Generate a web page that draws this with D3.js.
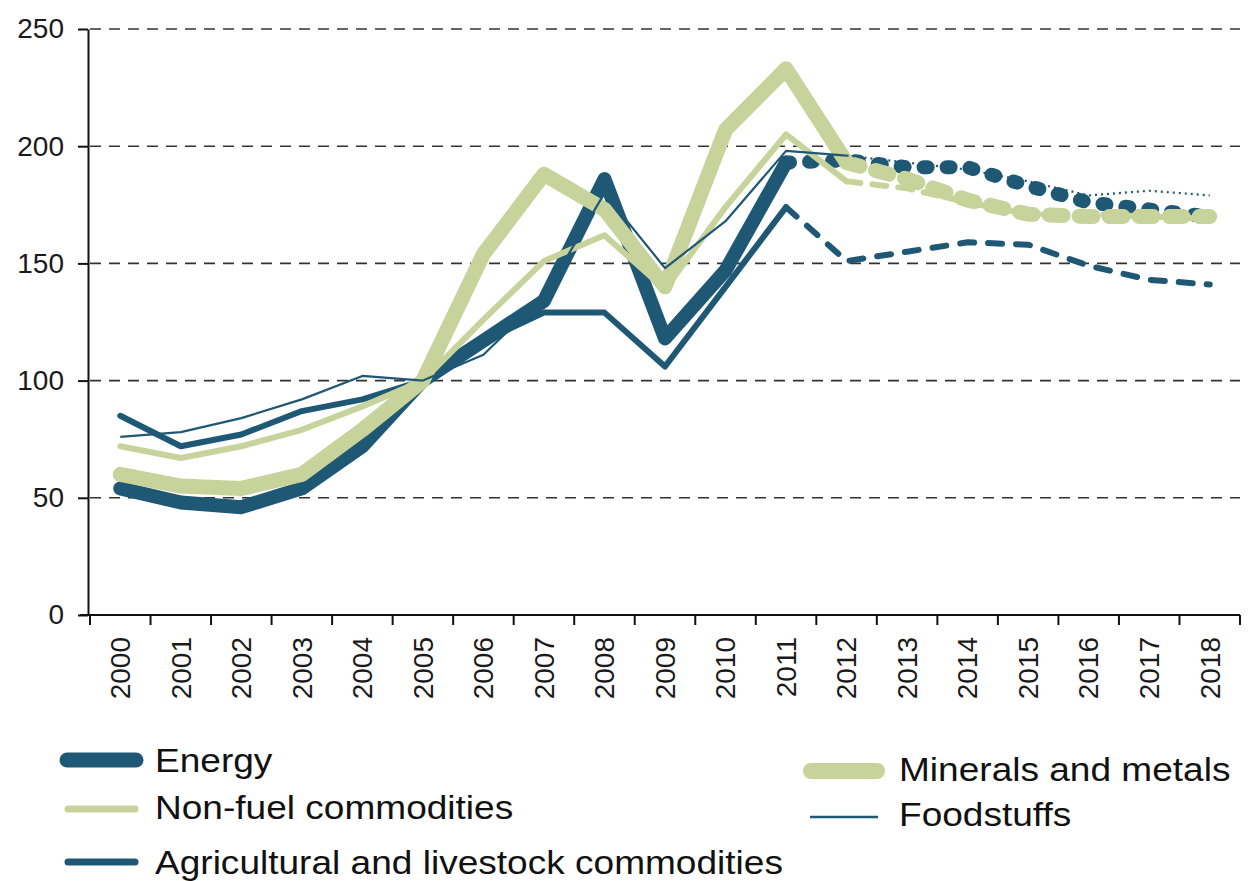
<!DOCTYPE html>
<html>
<head>
<meta charset="utf-8">
<script src="https://cdn.jsdelivr.net/npm/d3@7"></script>
<style>
  body { margin: 0; background: #ffffff; }
  svg { display: block; font-family: "Liberation Sans", Arial, sans-serif; }
  .axis text { font-size: 28px; fill: #1a1a1a; }
  .axis path, .axis line { stroke: #111; stroke-width: 2px; }
  .grid line { stroke: #333; stroke-width: 1.6px; stroke-dasharray: 11 8; }
  .legend text { font-size: 34px; fill: #111; }
</style>
</head>
<body>
<div id="chart"></div>
<script>
// categories (years on the x axis)
var years = ["2000", "2001", "2002", "2003", "2004", "2005", "2006", "2007", "2008", "2009",
             "2010", "2011", "2012", "2013", "2014", "2015", "2016", "2017", "2018"];

// y axis tick labels
var yTicks = [0, 50, 100, 150, 200, 250];

// series values (index, 2005 = 100)
var energy     = [54, 48, 46, 54, 72, 100, 117, 134, 186, 118, 147, 193, 194, 191, 191, 183, 176, 173, 170];
var nonFuel    = [72, 67, 72, 79, 89, 100, 126, 151, 162, 139, 174, 205, 185, 182, 176, 171, 171, 170, 169];
var agri       = [85, 72, 77, 87, 92, 100, 117, 129, 129, 106, 140, 174, 151, 155, 159, 158, 149, 143, 141];
var minerals   = [60, 55, 54, 60, 79, 100, 154, 188, 173, 140, 207, 233, 193, 186, 177, 171, 170, 170, 170];
var foodstuffs = [76, 78, 84, 92, 102, 100, 111, 136, 180, 148, 168, 198, 196, 193, 190, 185, 179, 181, 179];

// last year with actual data; after it the series is a projection
var lastActual = {energy: "2011", nonFuel: "2012", agri: "2011", minerals: "2012", foodstuffs: "2012"};

var blue = "#1e5875";
var green = "#c8d29b";

/**
 * Line chart of commodity price indices with projections
 */
function CommodityChart(){
    var self = this;
    self.init();
}

CommodityChart.prototype.init = function(){
    var self = this;
    self.width = 1249;
    self.height = 881;

    self.svg = d3.select("#chart").append("svg")
        .attr("width", self.width)
        .attr("height", self.height);

    self.x = d3.scaleBand().domain(years).range([90, 1240]);
    self.y = d3.scaleLinear().domain([0, 250]).range([615, 29]);
};

CommodityChart.prototype.xc = function(year){
    return this.x(year) + this.x.bandwidth() / 2;
};

CommodityChart.prototype.update = function(){
    var self = this;
    var x = self.x, y = self.y, svg = self.svg;

    //dashed gridlines
    svg.append("g").attr("class", "grid")
        .selectAll("line")
        .data(yTicks.filter(function(d){ return d > 0; }))
        .enter().append("line")
        .attr("x1", 90).attr("x2", 1240)
        .attr("y1", function(d){ return y(d); })
        .attr("y2", function(d){ return y(d); });

    //y axis
    var yAxis = d3.axisLeft(y).tickValues(yTicks).tickSize(10).tickSizeOuter(0).tickPadding(14);
    svg.append("g").attr("class", "axis")
        .attr("transform", "translate(88,0)")
        .call(yAxis);

    //x axis: labels centred in bands, ticks on band edges
    var xAxis = d3.axisBottom(x).tickSize(0).tickSizeOuter(0);
    var gx = svg.append("g").attr("class", "axis")
        .attr("transform", "translate(0,615)")
        .call(xAxis);
    gx.select(".domain").attr("d", "M80,0H1240");
    gx.selectAll(".tick text")
        .attr("transform", "rotate(-90)")
        .attr("x", -22)
        .attr("y", 0)
        .attr("dy", "0.35em")
        .style("text-anchor", "end");

    var edges = years.map(function(d){ return x(d); }).concat([x.range()[1]]);
    gx.selectAll(".edge")
        .data(edges)
        .enter().append("line")
        .attr("class", "edge")
        .attr("x1", function(d){ return d; }).attr("x2", function(d){ return d; })
        .attr("y1", 0).attr("y2", 10);

    var series = [
        {key: "agri", values: agri, color: blue, width: 6, dash: "14 14", cap: "round"},
        {key: "energy", values: energy, color: blue, width: 14, dash: "4 19", cap: "round"},
        {key: "minerals", values: minerals, color: green, width: 15, dash: "14 16", cap: "round"},
        {key: "nonFuel", values: nonFuel, color: green, width: 6, dash: "14 12", cap: "round"},
        {key: "foodstuffs", values: foodstuffs, color: blue, width: 2.2, dash: "2 4", cap: "butt"}
    ];

    var line = d3.line()
        .x(function(d){ return self.xc(d.year); })
        .y(function(d){ return y(d.value); });

    series.forEach(function(s){
        var pts = years.map(function(yr, i){ return {year: yr, value: s.values[i]}; });
        var cut = years.indexOf(lastActual[s.key]);
        var actual = pts.slice(0, cut + 1);
        var proj = pts.slice(cut);

        svg.append("path")
            .datum(actual)
            .attr("d", line)
            .attr("fill", "none")
            .attr("stroke", s.color)
            .attr("stroke-width", s.width)
            .attr("stroke-linejoin", "round")
            .attr("stroke-linecap", s.cap);

        svg.append("path")
            .datum(proj)
            .attr("d", line)
            .attr("fill", "none")
            .attr("stroke", s.color)
            .attr("stroke-width", s.width)
            .attr("stroke-dasharray", s.dash)
            .attr("stroke-linejoin", "round")
            .attr("stroke-linecap", s.cap);
    });

    //legend
    var legendItems = [
        {label: "Energy", color: blue, width: 15, x1: 67, x2: 136, ly: 760, tx: 155, ty: 772},
        {label: "Non-fuel commodities", color: green, width: 7, x1: 68, x2: 135, ly: 809, tx: 155, ty: 819},
        {label: "Agricultural and livestock commodities", color: blue, width: 7, x1: 68, x2: 135, ly: 862, tx: 155, ty: 874},
        {label: "Minerals and metals", color: green, width: 16, x1: 811, x2: 877, ly: 771, tx: 899, ty: 781},
        {label: "Foodstuffs", color: blue, width: 2.5, x1: 810, x2: 878, ly: 817, tx: 899, ty: 826}
    ];

    var legend = svg.append("g").attr("class", "legend");
    legend.selectAll("line")
        .data(legendItems)
        .enter().append("line")
        .attr("x1", function(d){ return d.x1; })
        .attr("x2", function(d){ return d.x2; })
        .attr("y1", function(d){ return d.ly; })
        .attr("y2", function(d){ return d.ly; })
        .attr("stroke", function(d){ return d.color; })
        .attr("stroke-width", function(d){ return d.width; })
        .attr("stroke-linecap", function(d){ return d.width > 3 ? "round" : "butt"; });

    legend.selectAll("text")
        .data(legendItems)
        .enter().append("text")
        .attr("transform", function(d){ return "translate(" + d.tx + "," + d.ty + ") scale(1.09,1)"; })
        .text(function(d){ return d.label; });
};

var chart = new CommodityChart();
chart.update();
</script>
</body>
</html>
